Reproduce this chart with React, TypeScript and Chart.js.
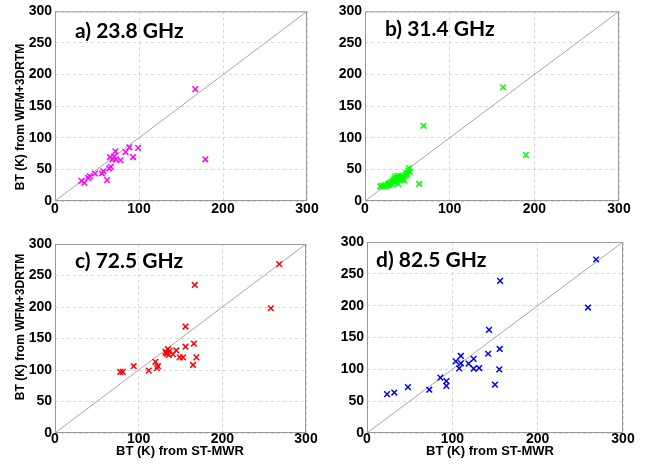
import React, { useEffect, useRef } from "react";
import { Chart, registerables } from "chart.js";

Chart.register(...registerables);

// ---- data ----
const xTickValues = [0, 100, 200, 300];
const yTickValues = [0, 50, 100, 150, 200, 250, 300];
const diagonal = [0, 300];

const panelTitles = ["a) 23.8 GHz", "b) 31.4 GHz", "c) 72.5 GHz", "d) 82.5 GHz"];
const xAxisTitle = "BT (K) from ST-MWR";
const yAxisTitle = "BT (K) from WFM+3DRTM";

const aX = [167, 179, 99, 88.5, 84, 93, 72, 65.5, 68.5, 72.5, 78, 70.5, 66.5, 64.5, 62, 57.5, 56, 47.5, 41.5, 39.5, 31.5, 35];
const aY = [177, 66, 84, 85, 77.5, 69.5, 78.5, 69.5, 66, 66, 64.5, 70.5, 54, 51.5, 33, 47, 43.5, 43.5, 39, 36.5, 32, 28.5];

const bX = [163, 69, 190, 64, 39, 18, 20, 22, 24, 25, 27, 28, 29, 30, 31, 32, 33, 34, 35, 35, 36, 37, 38, 39, 40, 41, 42, 43, 44, 45, 46, 48, 49, 50, 51, 52, 53];
const bY = [180, 119, 73, 27, 27, 23, 24, 23, 25, 24, 26, 28, 25, 28, 30, 27, 31, 33, 36, 30, 39, 34, 37, 40, 35, 38, 36, 33, 39, 36, 33, 40, 44, 42, 48, 52, 46];

const cX = [268, 167, 258, 156, 166, 156, 145, 135, 133, 136, 141, 149, 153, 169, 165, 120, 123, 122, 112, 94, 78, 81, 132, 134, 137];
const cY = [268, 235, 198, 169, 142, 137, 131, 133, 127, 124, 125, 120, 120, 120, 108, 113, 106, 103, 99, 106, 97, 97, 129, 126, 130];

const dX = [268.5, 156, 259, 143, 155.5, 142, 155, 150, 131.5, 125, 125, 119, 110, 104, 110, 108, 86, 93, 93, 73, 48, 32, 23.5];
const dY = [272.5, 239, 197, 162, 132, 124.5, 100, 76, 102, 101, 116.5, 109, 121, 112.5, 109.5, 101.5, 87, 81.5, 74, 68, 72, 63.5, 61];

const seriesX = [aX, bX, cX, dX];
const seriesY = [aY, bY, cY, dY];
const colors = ["#ff00ff", "#00ff00", "#ff0000", "#0000ff"];

// ---- layout of the four panels ----
type Panel = {
  left: number; top: number; width: number; height: number;
  yw: number; xh: number; xpad: number;
  pad: { left: number; top: number; right: number; bottom: number };
  title: [number, number];
  yTitle?: [number, number];
  xTitle?: [number, number];
};

const panels: Panel[] = [
  { left: 0, top: 0, width: 325, height: 225, yw: 55, xh: 24, xpad: 0, pad: { left: 0, top: 10, right: 18, bottom: 0 }, title: [75, 38], yTitle: [21, 117] },
  { left: 325, top: 0, width: 324, height: 225, yw: 40, xh: 24, xpad: 0, pad: { left: 0, top: 9, right: 30, bottom: 0 }, title: [60, 36] },
  { left: 0, top: 225, width: 325, height: 241, yw: 55, xh: 24, xpad: -2, pad: { left: 0, top: 19, right: 19, bottom: 9 }, title: [75, 43], yTitle: [21, 102], xTitle: [180, 226] },
  { left: 325, top: 225, width: 324, height: 241, yw: 42, xh: 24, xpad: -2, pad: { left: 0, top: 17, right: 26, bottom: 9 }, title: [51, 42], xTitle: [165, 226] },
];

const tickFont = { family: "'Liberation Sans', Arial, sans-serif", size: 14, weight: "bold" as const };

function makeTextPlugin(idx: number) {
  const p = panels[idx];
  return {
    id: "panelText" + idx,
    beforeDatasetsDraw(chart: any) {
      const { ctx, chartArea } = chart;
      ctx.save();
      ctx.strokeStyle = "#999999";
      ctx.lineWidth = 1;
      ctx.strokeRect(chartArea.left + 0.5, chartArea.top + 0.5, chartArea.right - chartArea.left - 1, chartArea.bottom - chartArea.top - 1);
      ctx.restore();
    },
    afterDraw(chart: any) {
      const { ctx } = chart;
      ctx.save();
      ctx.fillStyle = "#000";
      ctx.font = "bold 21px Lato, 'Open Sans', sans-serif";
      ctx.textAlign = "left";
      ctx.textBaseline = "alphabetic";
      ctx.fillText(panelTitles[idx], p.title[0], p.title[1]);
      ctx.font = "bold 13px 'Liberation Sans', Arial, sans-serif";
      ctx.textAlign = "center";
      ctx.textBaseline = "middle";
      if (p.xTitle) ctx.fillText(xAxisTitle, p.xTitle[0], p.xTitle[1]);
      if (p.yTitle) {
        ctx.translate(p.yTitle[0], p.yTitle[1]);
        ctx.rotate(-Math.PI / 2);
        ctx.font = "bold 12px 'Liberation Sans', Arial, sans-serif";
        ctx.fillText(yAxisTitle, 0, 0);
      }
      ctx.restore();
    },
  };
}

function PanelChart({ idx }: { idx: number }) {
  const ref = useRef<HTMLCanvasElement | null>(null);
  const p = panels[idx];
  useEffect(() => {
    if (!ref.current) return;
    const pts = seriesX[idx].map((x, i) => ({ x, y: seriesY[idx][i] }));
    const diag = diagonal.map((v) => ({ x: v, y: v }));
    const chart = new Chart(ref.current, {
      type: "scatter",
      data: {
        datasets: [
          {
            type: "line",
            data: diag,
            borderColor: "#a6a6a6",
            borderWidth: 1,
            pointRadius: 0,
            order: 2,
          } as any,
          {
            data: pts,
            pointStyle: "crossRot",
            pointRadius: 4,
            borderWidth: 1.5,
            borderColor: colors[idx],
            backgroundColor: colors[idx],
            order: 1,
          },
        ],
      },
      options: {
        animation: false,
        responsive: false,
        events: [],
        layout: { padding: p.pad },
        plugins: { legend: { display: false }, tooltip: { enabled: false } },
        scales: {
          x: {
            type: "linear",
            min: 0,
            max: 300,
            afterBuildTicks: (s: any) => {
              s.ticks = xTickValues.map((v) => ({ value: v }));
            },
            afterFit: (s: any) => {
              s.height = p.xh;
            },
            grid: { color: "#d6d6d6", lineWidth: 1, drawTicks: false },
            border: { display: false, dash: [3, 3] },
            ticks: { color: "#000", font: tickFont, padding: p.xpad, maxRotation: 0 },
          },
          y: {
            type: "linear",
            min: 0,
            max: 300,
            afterBuildTicks: (s: any) => {
              s.ticks = yTickValues.map((v) => ({ value: v }));
            },
            afterFit: (s: any) => {
              s.width = p.yw;
            },
            grid: { color: "#d6d6d6", lineWidth: 1, drawTicks: false },
            border: { display: false, dash: [3, 3] },
            ticks: { color: "#000", font: tickFont, padding: 3 },
          },
        },
      } as any,
      plugins: [makeTextPlugin(idx)],
    });
    return () => chart.destroy();
  }, [idx]);
  return (
    <div style={{ position: "absolute", left: p.left, top: p.top, width: p.width, height: p.height }}>
      <canvas ref={ref} width={p.width} height={p.height} style={{ width: p.width, height: p.height, display: "block" }} />
    </div>
  );
}

export default function App() {
  return (
    <div style={{ position: "absolute", left: 0, top: 0, width: 649, height: 466, background: "#fff", overflow: "hidden" }}>
      {panels.map((_, i) => (
        <PanelChart key={i} idx={i} />
      ))}
    </div>
  );
}
